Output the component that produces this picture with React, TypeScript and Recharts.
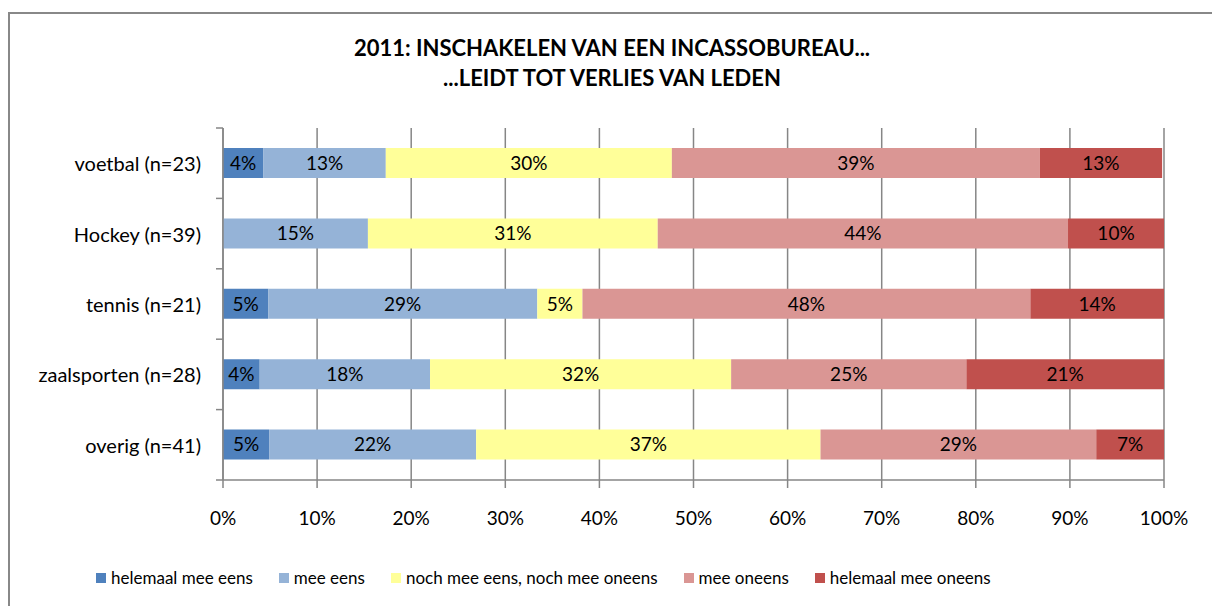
import React from "react";
import { BarChart, Bar, XAxis, YAxis, CartesianGrid, LabelList } from "recharts";

const CATEGORIES = [
  "voetbal (n=23)",
  "Hockey (n=39)",
  "tennis (n=21)",
  "zaalsporten (n=28)",
  "overig (n=41)",
];

const HELEMAAL_EENS = [4.3, 0, 4.8, 3.9, 4.9];
const MEE_EENS = [13.0, 15.4, 28.6, 18.1, 22.0];
const NOCH = [30.4, 30.8, 4.8, 32.0, 36.6];
const MEE_ONEENS = [39.1, 43.6, 47.6, 25.0, 29.3];
const HELEMAAL_ONEENS = [13.0, 10.3, 14.3, 21.0, 7.3];

const X_TICKS = [0, 10, 20, 30, 40, 50, 60, 70, 80, 90, 100];

const SERIES = [
  { key: "helemaal mee eens", values: HELEMAAL_EENS, color: "#4F81BD" },
  { key: "mee eens", values: MEE_EENS, color: "#95B3D7" },
  { key: "noch mee eens, noch mee oneens", values: NOCH, color: "#FFFF99" },
  { key: "mee oneens", values: MEE_ONEENS, color: "#DA9694" },
  { key: "helemaal mee oneens", values: HELEMAAL_ONEENS, color: "#C0504D" },
];

const data = CATEGORIES.map((name, i) => {
  const row: Record<string, string | number> = { name };
  SERIES.forEach((s) => {
    row[s.key] = s.values[i];
  });
  return row;
});

const FONT = "Lato, 'Liberation Sans', sans-serif";
const AXIS = "#868686";

const W = 1212;
const H = 606;
const PLOT_LEFT = 223;
const PLOT_TOP = 128;
const PLOT_BOTTOM = 480;
const BAND_HALF = (PLOT_BOTTOM - PLOT_TOP) / CATEGORIES.length / 2;

function CategoryTick(props: any) {
  const { x, y, payload, index } = props;
  const last = index === CATEGORIES.length - 1;
  return (
    <g>
      <text
        x={x - 14}
        y={y}
        textAnchor="end"
        dominantBaseline="central"
        fontFamily={FONT}
        fontSize={20}
        fill="#000"
      >
        {payload.value}
      </text>
      <line x1={PLOT_LEFT - 7} x2={PLOT_LEFT} y1={y - BAND_HALF} y2={y - BAND_HALF} stroke={AXIS} strokeWidth={1.5} />
      {last && (
        <line x1={PLOT_LEFT - 7} x2={PLOT_LEFT} y1={y + BAND_HALF} y2={y + BAND_HALF} stroke={AXIS} strokeWidth={1.5} />
      )}
    </g>
  );
}

const pct = (v: any) => {
  const n = Number(v);
  return n > 0 ? `${Math.round(n)}%` : "";
};

export default function App() {
  return (
    <div style={{ position: "absolute", left: 0, top: 0, width: W, height: H, background: "#fff", overflow: "hidden", fontFamily: FONT }}>
      <div
        style={{
          position: "absolute",
          left: 8,
          top: 12,
          width: W + 20,
          height: H + 20,
          border: "2px solid #888",
          boxSizing: "border-box",
        }}
      />
      <div
        style={{
          position: "absolute",
          left: 8,
          width: 1208,
          top: 33,
          textAlign: "center",
          fontWeight: 700,
          fontSize: 22,
          lineHeight: "30px",
          color: "#000",
        }}
      >
        2011: INSCHAKELEN VAN EEN INCASSOBUREAU...
        <br />
        ...LEIDT TOT VERLIES VAN LEDEN
      </div>
      <div style={{ position: "absolute", left: 0, top: 0 }}>
        <BarChart
          width={W}
          height={H}
          data={data}
          layout="vertical"
          barSize={30}
          margin={{ top: PLOT_TOP, right: W - 1164, left: PLOT_LEFT - 200, bottom: H - PLOT_BOTTOM - 50 }}
        >
          <CartesianGrid horizontal={false} stroke={AXIS} strokeWidth={1.5} />
          <XAxis
            type="number"
            domain={[0, 100]}
            ticks={X_TICKS}
            allowDataOverflow
            height={50}
            tickFormatter={(v) => `${v}%`}
            tick={{ fontFamily: FONT, fontSize: 19, fill: "#000" }}
            tickSize={8}
            tickMargin={24}
            stroke={AXIS}
            tickLine={{ stroke: AXIS, strokeWidth: 1.5 }}
            axisLine={{ stroke: AXIS, strokeWidth: 1.5 }}
          />
          <YAxis
            type="category"
            dataKey="name"
            width={200}
            tickLine={false}
            axisLine={{ stroke: AXIS, strokeWidth: 1.5 }}
            tick={<CategoryTick />}
          />
          {SERIES.map((s) => (
            <Bar key={s.key} dataKey={s.key} stackId="a" fill={s.color} isAnimationActive={false}>
              <LabelList
                dataKey={s.key}
                position="center"
                formatter={pct}
                style={{ fontFamily: FONT, fontSize: 19, fill: "#000" }}
              />
            </Bar>
          ))}
        </BarChart>
      </div>
      <div
        style={{
          position: "absolute",
          top: 567,
          left: 96,
          display: "flex",
          alignItems: "center",
          fontSize: 17,
          color: "#000",
          whiteSpace: "nowrap",
        }}
      >
        {SERIES.map((s) => (
          <div key={s.key} style={{ display: "flex", alignItems: "center", marginRight: 26 }}>
            <span style={{ display: "inline-block", width: 10, height: 10, background: s.color, marginRight: 5 }} />
            <span>{s.key}</span>
          </div>
        ))}
      </div>
    </div>
  );
}
